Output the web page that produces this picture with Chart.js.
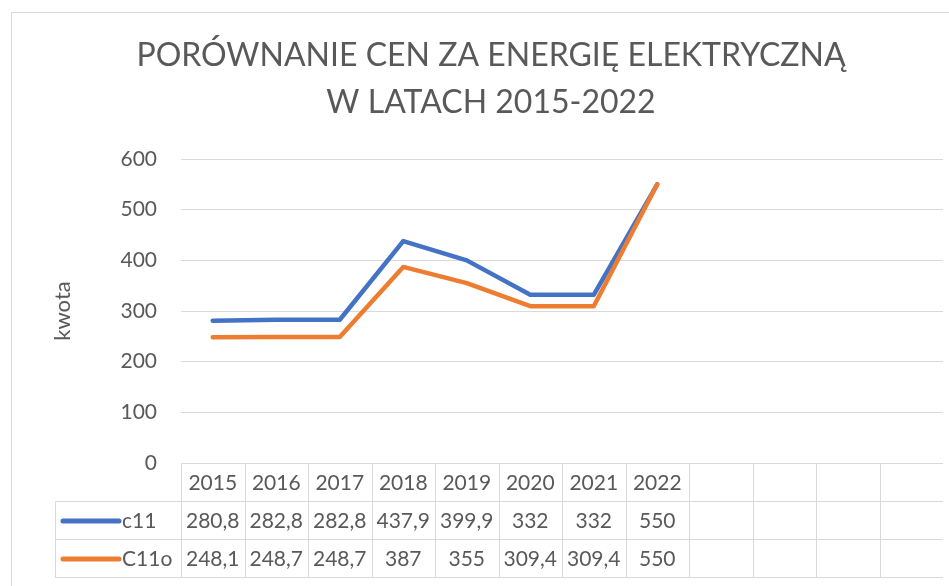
<!DOCTYPE html>
<html>
<head>
<meta charset="utf-8">
<script src="https://cdn.jsdelivr.net/npm/chart.js@4.4.1/dist/chart.umd.min.js"></script>
<style>
  html, body { margin:0; padding:0; background:#fff; overflow:hidden; width:949px; height:586px; }
  #frame { position:absolute; left:11px; top:12px; width:1000px; height:700px; border:1px solid #d9d9d9; }
  #wrap  { position:absolute; left:0; top:0; width:931px; height:573px; }
</style>
</head>
<body>
<div id="frame"><div id="wrap"><canvas id="chart"></canvas></div></div>
<script>
"use strict";

// ─── Data ────────────────────────────────────────────────
const CATEGORIES   = ["2015","2016","2017","2018","2019","2020","2021","2022","","","",""];
const SERIES_NAMES = ["c11", "C11o"];
const C11          = [280.8, 282.8, 282.8, 437.9, 399.9, 332, 332, 550];
const C11O         = [248.1, 248.7, 248.7, 387, 355, 309.4, 309.4, 550];
const Y_MIN = 0, Y_MAX = 600, Y_STEP = 100;
const TITLE_LINES  = ["PORÓWNANIE CEN ZA ENERGIĘ ELEKTRYCZNĄ", "W LATACH 2015-2022"];
const Y_TITLE      = "kwota";

// ─── Palette ─────────────────────────────────────────────
const COLORS = {
  blue:   "#4472C4",
  orange: "#ED7D31",
  text:   "#595959",
  grid:   "#D9D9D9",
};
const FONT = "Lato, 'Open Sans', sans-serif";

// number → "280,8"
const fmt = v => String(v).replace(".", ",");

// ─── Data table under the plot (Excel style) ─────────────
const dataTable = {
  id: "dataTable",
  afterDraw(chart) {
    const { ctx, chartArea: ca, scales: { x } } = chart;
    const n = CATEGORIES.length;
    const colW = (ca.right - ca.left) / n;
    const rowH = 38;
    const top = Math.round(ca.bottom);
    const legendLeft = 43;
    const rows = [
      { name: SERIES_NAMES[0], data: C11,  color: COLORS.blue },
      { name: SERIES_NAMES[1], data: C11O, color: COLORS.orange },
    ];

    ctx.save();
    ctx.strokeStyle = COLORS.grid;
    ctx.lineWidth = 1;
    ctx.beginPath();
    for (let r = 0; r <= 3; r++) {
      const y = top + r * rowH + 0.5;
      ctx.moveTo(r === 0 ? ca.left : legendLeft, y);
      ctx.lineTo(ca.right, y);
    }
    for (let i = 0; i <= n; i++) {
      const xv = Math.round(ca.left + i * colW) + 0.5;
      ctx.moveTo(xv, top);
      ctx.lineTo(xv, top + 3 * rowH);
    }
    ctx.moveTo(legendLeft + 0.5, top + rowH);
    ctx.lineTo(legendLeft + 0.5, top + 3 * rowH);
    ctx.stroke();

    ctx.font = "21px " + FONT;
    ctx.fillStyle = COLORS.text;
    ctx.textAlign = "center";
    ctx.textBaseline = "middle";
    CATEGORIES.forEach((c, i) => ctx.fillText(c, x.getPixelForValue(i), top + rowH / 2 + 1));

    rows.forEach((row, r) => {
      const cy = top + (r + 1.5) * rowH + 1;
      ctx.strokeStyle = row.color;
      ctx.lineWidth = 5;
      ctx.lineCap = "round";
      ctx.beginPath();
      ctx.moveTo(legendLeft + 8, cy);
      ctx.lineTo(legendLeft + 64, cy);
      ctx.stroke();
      ctx.textAlign = "left";
      ctx.fillText(row.name, legendLeft + 67, cy);
      ctx.textAlign = "center";
      row.data.forEach((v, i) => ctx.fillText(fmt(v), x.getPixelForValue(i), cy));
    });
    ctx.restore();
  },
};

// ─── Chart ───────────────────────────────────────────────
new Chart(document.getElementById("chart"), {
  type: "line",
  data: {
    labels: CATEGORIES,
    datasets: [
      { label: SERIES_NAMES[0], data: C11,  borderColor: COLORS.blue,   order: 1 },
      { label: SERIES_NAMES[1], data: C11O, borderColor: COLORS.orange, order: 0 },
    ],
  },
  options: {
    responsive: true,
    maintainAspectRatio: false,
    animation: false,
    layout: { padding: { left: 27, right: 0, top: 0, bottom: 123 } },
    elements: {
      line:  { borderWidth: 4.5, tension: 0, fill: false, borderJoinStyle: "round", borderCapStyle: "round" },
      point: { radius: 0, hoverRadius: 0 },
    },
    scales: {
      x: { display: false, offset: true },
      y: {
        min: Y_MIN, max: Y_MAX,
        ticks: { stepSize: Y_STEP, padding: 24, color: COLORS.text, font: { family: FONT, size: 21 } },
        grid: { color: COLORS.grid, drawTicks: false },
        border: { display: false },
        title: { display: true, text: Y_TITLE, color: COLORS.text, font: { family: FONT, size: 22 }, padding: { top: 11, bottom: 0 } },
        afterFit(s) { s.width = 142; },
      },
    },
    plugins: {
      legend: { display: false },
      tooltip: { enabled: false },
      title: {
        display: true,
        text: TITLE_LINES,
        color: COLORS.text,
        font: { family: FONT, size: 32, weight: "normal", lineHeight: 47 / 32 },
        padding: { top: 19.5, bottom: 32.5 },
      },
    },
  },
  plugins: [dataTable],
});
</script>
</body>
</html>
